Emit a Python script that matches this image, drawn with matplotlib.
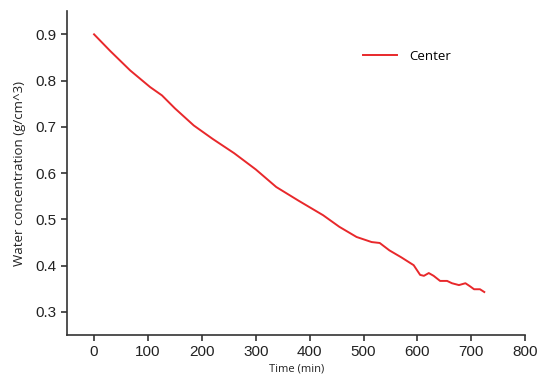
import matplotlib
matplotlib.use("Agg")
import matplotlib.pyplot as plt

# data
time_min = [0, 30, 67, 104, 126, 150, 185, 220, 260, 300, 338, 380, 425, 455, 487,
            515, 530, 548, 570, 593, 605, 612, 621, 630, 642, 655, 664, 677, 689,
            698, 705, 716, 724]
center = [0.900, 0.864, 0.822, 0.786, 0.768, 0.740, 0.703, 0.674, 0.643, 0.608, 0.570,
          0.540, 0.509, 0.484, 0.462, 0.451, 0.449, 0.433, 0.418, 0.401, 0.380, 0.378,
          0.384, 0.378, 0.367, 0.367, 0.362, 0.358, 0.362, 0.355, 0.349, 0.349, 0.343]

xticks = [0, 100, 200, 300, 400, 500, 600, 700, 800]
yticks = [0.3, 0.4, 0.5, 0.6, 0.7, 0.8, 0.9]

fig = plt.figure(figsize=(5.5, 3.86), dpi=100)
ax = fig.add_axes([0.122, 0.132, 0.833, 0.839])

ax.plot(time_min, center, color="#e8282b", linewidth=1.4, label="Center")

ax.set_xlim(-50, 800)
ax.set_ylim(0.25, 0.95)
ax.set_xticks(xticks)
ax.set_yticks(yticks)
ax.set_xticklabels([str(t) for t in xticks], fontfamily="Liberation Sans", fontsize=11)
ax.set_yticklabels([f"{t:.1f}" for t in yticks], fontfamily="Liberation Sans", fontsize=11)

for side in ["top", "right"]:
    ax.spines[side].set_visible(False)
for side in ["left", "bottom"]:
    ax.spines[side].set_color("#333333")
    ax.spines[side].set_linewidth(1.2)
ax.tick_params(direction="out", length=4, width=1.2, color="#333333", labelcolor="#222222")

ax.set_xlabel("Time (min)", fontfamily="Open Sans", fontsize=8, color="#222222", labelpad=3)
ax.set_ylabel("Water concentration (g/cm^3)", fontfamily="Open Sans", fontsize=9.5,
              color="#222222", labelpad=7)

ax.legend(loc="center left", bbox_to_anchor=(0.62, 0.86), frameon=False,
          prop={"family": "Open Sans", "size": 9.5}, handlelength=2.6, handletextpad=0.9)

fig.savefig("out.png", dpi=100)
